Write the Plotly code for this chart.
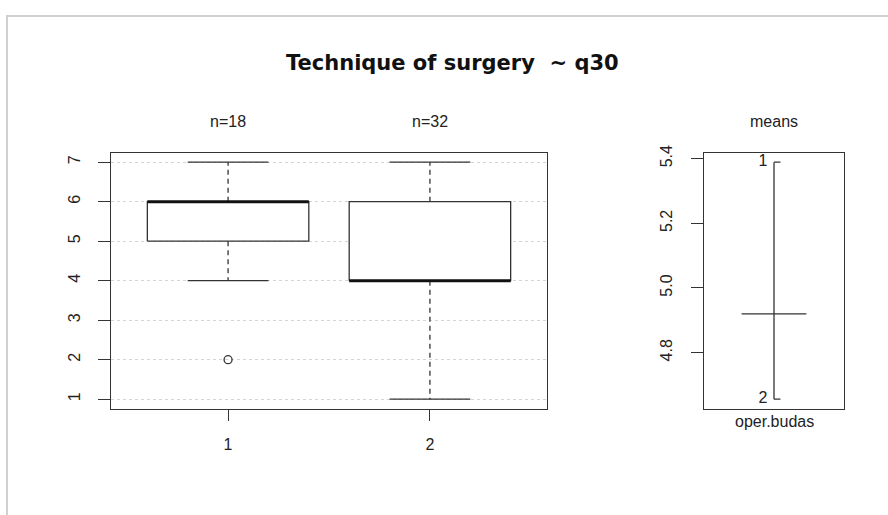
import plotly.graph_objects as go

# ---------------- data ----------------
groups = ["1", "2"]
group_pos = [1, 2]
n_counts = [18, 32]
q1 = [5, 4]
medians = [6, 4]
q3 = [6, 6]
whisker_low = [4, 1]
whisker_high = [7, 7]
outliers = [[2], []]

y_ticks_left = [1, 2, 3, 4, 5, 6, 7]

design_factor = "oper.budas"
level_means = [5.388889, 4.65625]   # means of q30 for levels 1 and 2
grand_mean = 4.92
y_ticks_right = [4.8, 5.0, 5.2, 5.4]

title_text = "Technique of surgery\u00a0 ~ q30"

# ---------------- figure ----------------
W, H = 888, 515
LINE = "#333333"
TXT = "#222222"
FONT = "Liberation Sans, Arial, sans-serif"

fig = go.Figure()

box_half = 0.4
cap_half = 0.2
for i, g in enumerate(groups):
    x = group_pos[i]
    fig.add_trace(go.Scatter(
        x=[x - box_half, x + box_half, x + box_half, x - box_half, x - box_half],
        y=[q1[i], q1[i], q3[i], q3[i], q1[i]],
        mode="lines", fill="toself", fillcolor="white",
        line=dict(color=LINE, width=1.3), hoverinfo="skip", showlegend=False,
        xaxis="x", yaxis="y"))
    fig.add_trace(go.Scatter(
        x=[x, x, None, x, x], y=[q3[i], whisker_high[i], None, q1[i], whisker_low[i]],
        mode="lines", line=dict(color=LINE, width=1.3, dash="5px,4px"),
        hoverinfo="skip", showlegend=False, xaxis="x", yaxis="y"))
    fig.add_trace(go.Scatter(
        x=[x - cap_half, x + cap_half, None, x - cap_half, x + cap_half],
        y=[whisker_high[i], whisker_high[i], None, whisker_low[i], whisker_low[i]],
        mode="lines", line=dict(color=LINE, width=1.3),
        hoverinfo="skip", showlegend=False, xaxis="x", yaxis="y"))
    fig.add_trace(go.Scatter(
        x=[x - box_half, x + box_half], y=[medians[i], medians[i]],
        mode="lines", line=dict(color="#111111", width=3),
        hoverinfo="skip", showlegend=False, xaxis="x", yaxis="y"))
    if outliers[i]:
        fig.add_trace(go.Scatter(
            x=[x] * len(outliers[i]), y=outliers[i], mode="markers",
            marker=dict(symbol="circle-open", size=8, color=LINE, line=dict(width=1.3)),
            hoverinfo="skip", showlegend=False, xaxis="x", yaxis="y"))

# ---- design plot of means ----
xc = 1
fig.add_trace(go.Scatter(
    x=[xc, xc], y=[min(level_means), max(level_means)], mode="lines",
    line=dict(color=LINE, width=1.3), hoverinfo="skip", showlegend=False,
    xaxis="x2", yaxis="y2"))
cx, cy = [], []
for m in level_means:
    cx += [xc, xc + 0.05, None]
    cy += [m, m, None]
fig.add_trace(go.Scatter(x=cx, y=cy, mode="lines", line=dict(color=LINE, width=1.3),
                         hoverinfo="skip", showlegend=False, xaxis="x2", yaxis="y2"))
fig.add_trace(go.Scatter(
    x=[xc - 0.05] * len(groups), y=level_means, mode="text", text=groups,
    textposition="middle left", textfont=dict(family=FONT, size=16, color=TXT),
    hoverinfo="skip", showlegend=False, xaxis="x2", yaxis="y2"))
fig.add_trace(go.Scatter(
    x=[xc - 0.25, xc + 0.25], y=[grand_mean, grand_mean], mode="lines",
    line=dict(color=LINE, width=1.3), hoverinfo="skip", showlegend=False,
    xaxis="x2", yaxis="y2"))

def px_x(v):
    return v / W

def px_y(v):
    return 1 - v / H

axis_common = dict(showline=True, mirror=True, linecolor=LINE, linewidth=1.3,
                   zeroline=False, tickcolor=LINE, tickwidth=1.3)

fig.update_layout(
    width=W, height=H,
    margin=dict(l=0, r=0, t=0, b=0),
    paper_bgcolor="white", plot_bgcolor="white",
    showlegend=False,
    xaxis=dict(domain=[px_x(111), px_x(547)], range=[0.42, 2.58],
               tickmode="array", tickvals=group_pos, ticktext=groups,
               ticks="outside", ticklen=11, showgrid=False,
               tickfont=dict(family=FONT, size=16, color=TXT),
               ticklabelstandoff=10, anchor="y", **axis_common),
    yaxis=dict(domain=[px_y(407), px_y(147)], range=[0.76, 7.24],
               tickmode="array", tickvals=y_ticks_left,
               ticktext=[str(v) for v in y_ticks_left],
               ticks="outside", ticklen=12, tickangle=-90,
               tickfont=dict(family=FONT, size=16, color=TXT),
               showgrid=True, gridcolor="#d4d4d4", griddash="dot", gridwidth=1,
               ticklabelstandoff=11, anchor="x", **axis_common),
    xaxis2=dict(domain=[px_x(704), px_x(844)], range=[0.46, 1.54],
                showticklabels=False, ticks="", showgrid=False, anchor="y2",
                **axis_common),
    yaxis2=dict(domain=[px_y(407), px_y(147)], range=[4.627, 5.418],
                tickmode="array", tickvals=y_ticks_right,
                ticktext=[f"{v:.1f}" for v in y_ticks_right],
                ticks="outside", ticklen=12, tickangle=-90, showgrid=False,
                tickfont=dict(family=FONT, size=16, color=TXT),
                ticklabelstandoff=12, anchor="x2", **axis_common),
)

annotations = [
    dict(text="<b>" + title_text + "</b>", x=px_x(452), y=px_y(56), xref="paper", yref="paper",
         showarrow=False, xanchor="center", yanchor="middle",
         font=dict(family="DejaVu Sans, sans-serif", size=21, color="#111111")),
]
for i, g in enumerate(groups):
    annotations.append(dict(text=f"n={n_counts[i]}", x=group_pos[i], y=px_y(115),
                            xref="x", yref="paper", showarrow=False,
                            xanchor="center", yanchor="middle",
                            font=dict(family=FONT, size=16, color=TXT)))
annotations.append(dict(text="means", x=xc, y=px_y(115), xref="x2", yref="paper",
                        showarrow=False, xanchor="center", yanchor="middle",
                        font=dict(family=FONT, size=16, color=TXT)))
annotations.append(dict(text=design_factor, x=xc, y=px_y(420), xref="x2", yref="paper",
                        showarrow=False, xanchor="center", yanchor="middle",
                        font=dict(family=FONT, size=16, color=TXT)))
fig.update_layout(annotations=annotations)

fig.update_layout(shapes=[
    dict(type="line", xref="paper", yref="paper", x0=px_x(6), x1=1, y0=px_y(8), y1=px_y(8),
         line=dict(color="#d0d0d0", width=2)),
    dict(type="line", xref="paper", yref="paper", x0=px_x(7), x1=px_x(7), y0=px_y(8), y1=0,
         line=dict(color="#d0d0d0", width=2)),
])

post = ("document.documentElement.style.margin='0';"
        "document.body.style.margin='0';document.body.style.padding='0';"
        "document.body.style.overflow='hidden';"
        "var d=document.getElementById('{plot_id}');"
        "d.style.position='absolute';d.style.top='0px';d.style.left='0px';")
fig.write_html("out.html", config={"displayModeBar": False}, post_script=post)
